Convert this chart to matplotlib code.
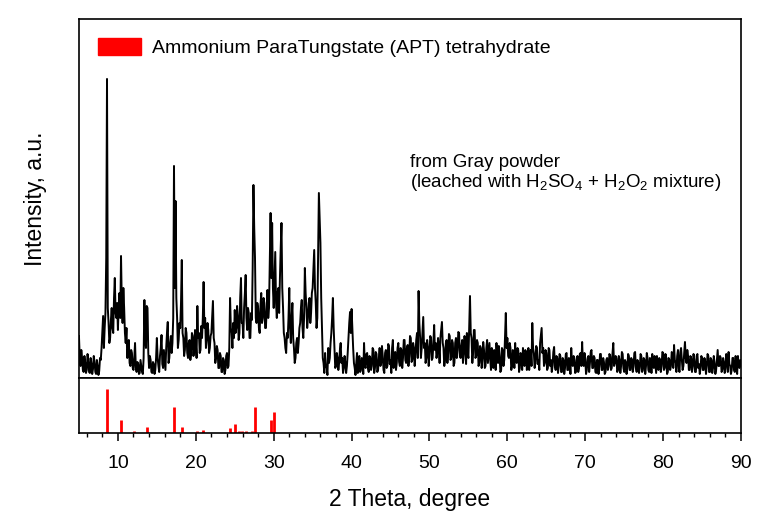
import numpy as np
import matplotlib
matplotlib.use("Agg")
import matplotlib.pyplot as plt
from matplotlib.patches import Patch

plt.rcParams['font.family'] = ['Liberation Sans', 'DejaVu Sans']
plt.rcParams['mathtext.fontset'] = 'custom'
plt.rcParams['mathtext.rm'] = 'Liberation Sans'

# ---- data: measured pattern, one row per degree (start degree, values every 0.1 deg) ----
theta_step = 0.1
pattern_rows = {
    5: [42, 20, 12, 28, 20, 8, 6, 22, 15, 5],
    6: [8, 24, 18, 6, 5, 20, 14, 4, 9, 22],
    7: [16, 6, 4, 18, 12, 3, 7, 20, 18, 30],
    8: [45, 62, 30, 50, 65, 120, 299, 70, 55, 35],
    9: [40, 58, 70, 50, 45, 80, 100, 65, 60, 75],
    10: [48, 72, 85, 60, 122, 75, 55, 90, 70, 45],
    11: [35, 50, 20, 30, 38, 15, 12, 28, 25, 10],
    12: [8, 20, 35, 10, 6, 16, 14, 4, 5, 18],
    13: [12, 6, 4, 20, 78, 40, 30, 72, 70, 25],
    14: [10, 22, 18, 6, 5, 16, 14, 4, 8, 20],
    15: [40, 20, 12, 6, 22, 30, 43, 14, 10, 28],
    16: [18, 8, 30, 45, 56, 15, 20, 35, 42, 25],
    17: [35, 60, 212, 90, 177, 80, 60, 30, 38, 55],
    18: [50, 75, 118, 45, 40, 22, 28, 50, 45, 25],
    19: [20, 35, 38, 18, 25, 45, 42, 22, 30, 48],
    20: [35, 20, 72, 40, 45, 25, 28, 52, 40, 60],
    21: [96, 50, 60, 30, 38, 55, 48, 25, 30, 42],
    22: [45, 60, 77, 40, 35, 15, 20, 32, 28, 10],
    23: [10, 25, 22, 6, 6, 20, 18, 4, 8, 22],
    24: [25, 10, 12, 30, 80, 50, 45, 30, 55, 40],
    25: [68, 45, 50, 72, 62, 38, 45, 80, 100, 55],
    26: [55, 40, 70, 85, 103, 60, 48, 70, 65, 40],
    27: [40, 65, 58, 110, 193, 150, 120, 60, 55, 75],
    28: [70, 50, 45, 72, 85, 55, 60, 80, 75, 50],
    29: [50, 70, 88, 60, 70, 120, 165, 100, 155, 90],
    30: [70, 100, 126, 75, 60, 85, 90, 65, 100, 130],
    31: [155, 90, 70, 45, 40, 30, 25, 45, 40, 60],
    32: [90, 50, 35, 60, 75, 40, 30, 15, 20, 35],
    33: [40, 25, 35, 50, 55, 70, 78, 50, 40, 60],
    34: [110, 85, 70, 50, 60, 75, 80, 55, 65, 85],
    35: [90, 110, 128, 90, 75, 50, 60, 120, 185, 160],
    36: [135, 80, 50, 20, 15, 5, 25, 12, 10, 3],
    37: [30, 15, 20, 35, 45, 60, 80, 50, 30, 10],
    38: [12, 25, 20, 8, 15, 28, 35, 15, 20, 5],
    39: [10, 22, 15, 5, 12, 25, 40, 55, 66, 45],
    40: [69, 50, 30, 15, 10, 3, 15, 25, 5, 18],
    41: [22, 6, 8, 20, 18, 4, 35, 12, 10, 24],
    42: [25, 10, 6, 22, 20, 8, 12, 30, 28, 5],
    43: [10, 26, 24, 6, 8, 20, 30, 12, 15, 32],
    44: [22, 8, 5, 25, 28, 10, 12, 34, 32, 14],
    45: [18, 5, 30, 38, 10, 22, 26, 8, 15, 30],
    46: [35, 16, 12, 30, 28, 10, 20, 38, 38, 18],
    47: [15, 30, 33, 12, 22, 42, 40, 16, 18, 35],
    48: [30, 12, 24, 38, 45, 20, 87, 55, 40, 20],
    49: [30, 45, 61, 30, 35, 15, 20, 38, 30, 12],
    50: [25, 42, 40, 18, 20, 35, 53, 28, 35, 20],
    51: [25, 40, 30, 15, 40, 48, 56, 35, 30, 12],
    52: [18, 35, 38, 15, 25, 44, 42, 18, 20, 38],
    53: [35, 12, 15, 35, 40, 20, 28, 46, 45, 22],
    54: [20, 32, 38, 15, 25, 42, 30, 14, 45, 25],
    55: [20, 50, 82, 45, 40, 15, 25, 48, 48, 20],
    56: [22, 38, 35, 12, 15, 32, 30, 10, 20, 36],
    57: [28, 10, 12, 30, 38, 15, 25, 35, 18, 8],
    58: [30, 14, 10, 28, 25, 8, 35, 20, 15, 32],
    59: [22, 6, 8, 30, 28, 12, 18, 40, 65, 30],
    60: [40, 22, 20, 35, 30, 8, 12, 28, 25, 10],
    61: [35, 18, 15, 30, 28, 6, 10, 25, 22, 8],
    62: [30, 14, 12, 28, 26, 8, 18, 30, 8, 20],
    63: [28, 12, 55, 30, 25, 10, 15, 32, 30, 14],
    64: [18, 8, 35, 42, 50, 25, 30, 12, 15, 28],
    65: [25, 8, 10, 30, 28, 12, 18, 6, 12, 26],
    66: [31, 12, 8, 22, 20, 5, 12, 24, 22, 6],
    67: [6, 20, 18, 4, 10, 24, 25, 8, 8, 20],
    68: [15, 4, 30, 14, 12, 22, 20, 5, 6, 18],
    69: [22, 6, 10, 24, 25, 12, 36, 14, 12, 25],
    70: [18, 4, 8, 20, 22, 6, 15, 26, 28, 10],
    71: [10, 22, 20, 6, 5, 18, 18, 4, 12, 24],
    72: [24, 8, 8, 20, 16, 4, 6, 18, 20, 8],
    73: [12, 24, 22, 8, 10, 25, 35, 12, 15, 22],
    74: [20, 6, 8, 22, 18, 5, 12, 26, 24, 10],
    75: [6, 18, 16, 4, 10, 24, 22, 8, 8, 20],
    76: [18, 6, 12, 25, 26, 10, 6, 18, 15, 5],
    77: [10, 24, 22, 6, 8, 20, 18, 4, 12, 25],
    78: [20, 8, 6, 20, 16, 5, 24, 12, 10, 22],
    79: [14, 5, 22, 10, 8, 20, 18, 6, 12, 26],
    80: [25, 8, 10, 24, 20, 4, 6, 20, 18, 8],
    81: [12, 26, 24, 10, 33, 18, 15, 6, 22, 28],
    82: [10, 6, 26, 30, 18, 8, 12, 25, 36, 20],
    83: [15, 28, 22, 8, 8, 22, 20, 6, 12, 24],
    84: [18, 6, 6, 22, 24, 10, 14, 4, 10, 22],
    85: [20, 8, 8, 20, 16, 4, 12, 24, 22, 6],
    86: [6, 20, 18, 5, 10, 22, 15, 4, 8, 18],
    87: [28, 12, 12, 22, 20, 6, 8, 20, 16, 5],
    88: [10, 24, 18, 6, 26, 14, 12, 4, 8, 20],
    89: [20, 8, 6, 22, 15, 4, 22, 12, 10, 18],
    90: [12],
}

ref_pos = [8.63, 10.4, 12.06, 13.7, 17.2, 18.2, 20.2, 20.96, 24.4, 25.0,
           25.5, 25.9, 26.4, 27.2, 27.6, 29.6, 30.1]
ref_int = [44, 13, 2, 6, 26, 6, 2, 3, 5, 9,
           2, 2, 2, 2, 26, 13, 21]

x_ticks = [10, 20, 30, 40, 50, 60, 70, 80, 90]
legend_label = "Ammonium ParaTungstate (APT) tetrahydrate"
sample_text = ("from Gray powder\n(leached with H$\\mathregular{_2}$SO$\\mathregular{_4}$"
               " + H$\\mathregular{_2}$O$\\mathregular{_2}$ mixture)")

theta = np.concatenate([start + theta_step * np.arange(len(v))
                        for start, v in pattern_rows.items()])
intensity = np.concatenate([np.asarray(v, float) for v in pattern_rows.values()])

# ---- figure ----
fig = plt.figure(figsize=(7.78, 5.28), dpi=100)
ax1 = fig.add_axes([0.1015, 0.2841, 0.851, 0.680])
ax2 = fig.add_axes([0.1015, 0.1799, 0.851, 0.1042], sharex=ax1)

ax1.plot(theta, intensity, color='black', lw=1.4)
ax1.set_xlim(5, 90)
ax1.set_ylim(0, 359)
ax1.set_yticks([])
ax1.tick_params(axis='x', which='both', bottom=False, labelbottom=False)
ax1.set_ylabel("Intensity, a.u.", fontsize=16.5, labelpad=23)

ax1.text(0.5006, 0.625, sample_text, transform=ax1.transAxes, fontsize=13.5,
         ha='left', va='top', linespacing=1.1)

leg = ax1.legend(handles=[Patch(color='#ff0000', label=legend_label)],
                 loc='upper left', frameon=False, fontsize=14,
                 handlelength=2.2, handleheight=0.9, borderaxespad=0.6,
                 handletextpad=0.55)

ax2.vlines(ref_pos, 0, ref_int, color='#ff0000', lw=2)
ax2.set_ylim(0, 55)
ax2.set_yticks([])
ax2.set_xticks(x_ticks)
ax2.set_xticks(np.arange(6, 90, 2), minor=True)
ax2.tick_params(axis='x', which='major', direction='out', length=5.5, width=1.1,
                labelsize=14, pad=10)
ax2.tick_params(axis='x', which='minor', direction='out', length=3, width=1.0)
ax2.set_xlabel("2 Theta, degree", fontsize=16.5, labelpad=12)

for ax in (ax1, ax2):
    for s in ax.spines.values():
        s.set_linewidth(1.2)

fig.savefig("out.png", dpi=100)
